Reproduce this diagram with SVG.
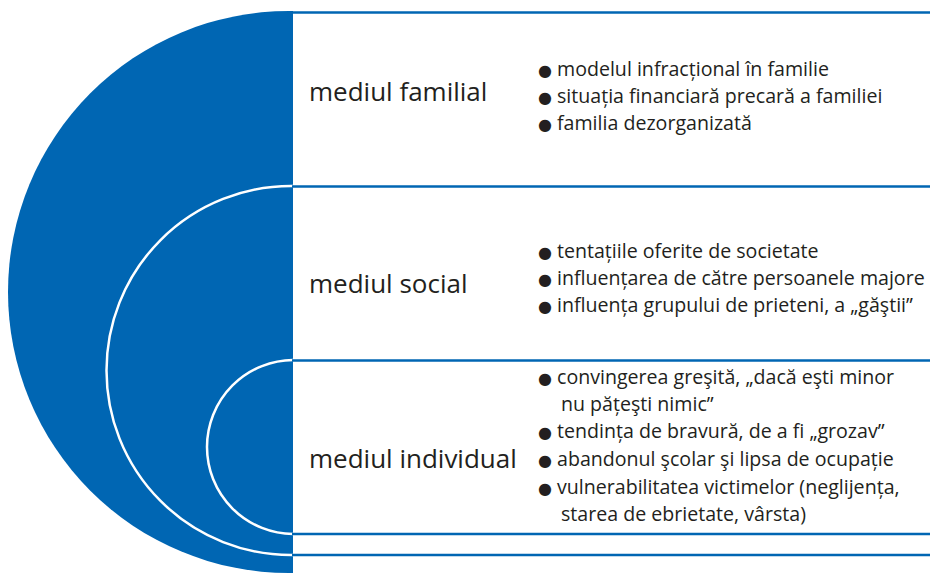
<svg xmlns="http://www.w3.org/2000/svg" width="930" height="573" viewBox="0 0 930 573">
<style>
.hl{stroke:#0066b3;stroke-width:2.5;fill:none}
.arc{stroke:#ffffff;stroke-width:2.5;fill:none}
.t{font-family:"Open Sans","Liberation Sans",sans-serif;fill:#231f20}
.h{font-size:26px}
.b{font-size:19.6px}
.d{font-family:"DejaVu Sans",sans-serif;font-size:16px;fill:#231f20}
</style>
<defs>
<clipPath id="cl"><rect x="0" y="0" width="293" height="573"/></clipPath>
</defs>
<g id="disk" clip-path="url(#cl)">
<circle cx="289" cy="292" r="281" fill="#0066b3"/>
<circle class="arc" cx="291" cy="370.5" r="184.5"/>
<circle class="arc" cx="294" cy="447" r="87"/>
</g>
<g id="connectors">
<line class="hl" x1="292" y1="12.5" x2="930" y2="12.5"/>
<line class="hl" x1="292" y1="186.5" x2="930" y2="186.5"/>
<line class="hl" x1="292" y1="360.5" x2="930" y2="360.5"/>
<line class="hl" x1="292" y1="534" x2="930" y2="534"/>
<line class="hl" x1="292" y1="555" x2="930" y2="555"/>
</g>
<g id="familial">
<text class="t h" x="309" y="101">mediul familial</text>
<text class="d" x="538" y="76">●</text><text class="t b" x="557" y="76">modelul infracțional în familie</text>
<text class="d" x="538" y="103">●</text><text class="t b" x="557" y="103">situația financiară precară a familiei</text>
<text class="d" x="538" y="130">●</text><text class="t b" x="557" y="130">familia dezorganizată</text>
</g>
<g id="social">
<text class="t h" x="309" y="293">mediul social</text>
<text class="d" x="538" y="258">●</text><text class="t b" x="557" y="258">tentațiile oferite de societate</text>
<text class="d" x="538" y="285">●</text><text class="t b" x="557" y="285">influențarea de către persoanele majore</text>
<text class="d" x="538" y="312">●</text><text class="t b" x="557" y="312">influența grupului de prieteni, a „găştii”</text>
</g>
<g id="individual">
<text class="t h" x="309" y="468">mediul individual</text>
<text class="d" x="538" y="384">●</text><text class="t b" x="557" y="384">convingerea greşită, „dacă eşti minor</text>
<text class="t b" x="561" y="411">nu pățeşti nimic”</text>
<text class="d" x="538" y="438">●</text><text class="t b" x="557" y="438">tendința de bravură, de a fi „grozav”</text>
<text class="d" x="538" y="466">●</text><text class="t b" x="557" y="466">abandonul şcolar şi lipsa de ocupație</text>
<text class="d" x="538" y="494">●</text><text class="t b" x="557" y="494">vulnerabilitatea victimelor (neglijența,</text>
<text class="t b" x="561" y="521">starea de ebrietate, vârsta)</text>
</g>
</svg>
